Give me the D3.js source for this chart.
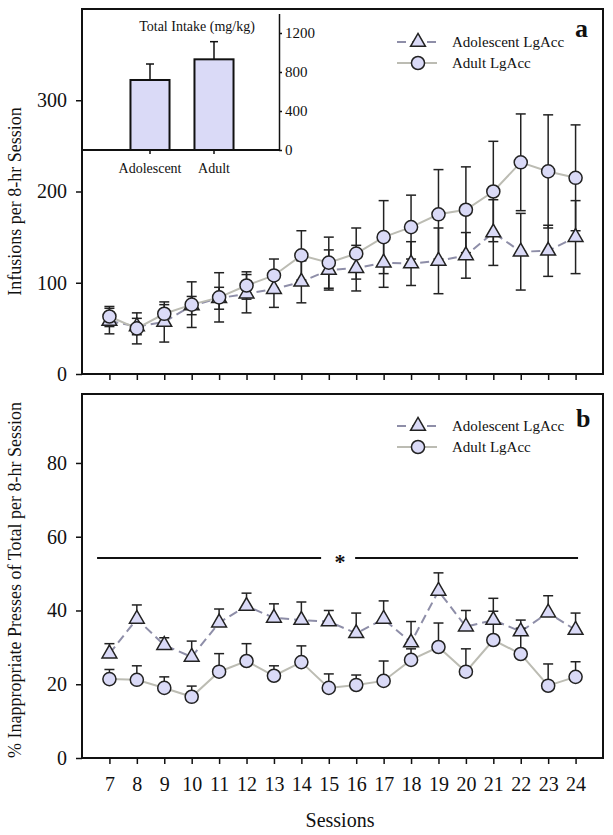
<!DOCTYPE html>
<html>
<head>
<meta charset="utf-8">
<script src="https://cdn.jsdelivr.net/npm/d3@7"></script>
<style>
  body { margin: 0; background: #fff; }
  text { font-family: "Liberation Serif", "Times New Roman", serif; fill: #111; }
</style>
</head>
<body>
<svg id="chart" width="613" height="835"></svg>
<script>
(function () {
    const width = 613, height = 835

    // sessions on the x axis
    const sessions = [7, 8, 9, 10, 11, 12, 13, 14, 15, 16, 17, 18, 19, 20, 21, 22, 23, 24]

    // panel a: infusions per 8-hr session (mean, SEM)
    const adolInf = [58, 52, 57, 75, 83, 88, 93, 101, 114, 116, 122, 121, 124, 130, 155, 134, 135, 150]
    const adolInfErr = [14, 9, 22, 10, 12, 21, 20, 23, 22, 25, 27, 24, 36, 25, 36, 42, 28, 40]
    const adultInf = [63, 50, 66, 76, 84, 97, 108, 130, 122, 132, 150, 161, 175, 180, 200, 232, 222, 215]
    const adultInfErr = [11, 17, 10, 25, 27, 15, 18, 27, 28, 28, 40, 35, 49, 47, 55, 53, 62, 58]

    // panel b: % inappropriate presses (mean, SEM)
    const adolPct = [28.3, 37.7, 30.6, 27.4, 36.7, 41.2, 38, 37.4, 37, 33.8, 37.7, 31.3, 45.3, 35.6, 37.4, 34.3, 39.4, 34.7]
    const adolPctErr = [2.7, 3.8, 2, 4.3, 3.7, 3.5, 3.8, 4.9, 3, 5.5, 4.9, 5.7, 4.9, 4.4, 5.9, 3.1, 4.6, 4.6]
    const adultPct = [21.4, 21.2, 19, 16.6, 23.4, 26.3, 22.3, 26, 19, 19.8, 20.9, 26.6, 30.1, 23.4, 32, 28.2, 19.6, 22]
    const adultPctErr = [2.6, 3.8, 3, 2.9, 4.9, 4.7, 2.7, 4.4, 3.8, 2.7, 5.4, 3, 6.5, 6.2, 7.8, 7, 5.9, 4.1]

    // inset: total intake (mg/kg)
    const groups = ["Adolescent", "Adult"]
    const intake = [718, 930]
    const intakeErr = [164, 181]

    // tick labels
    const ticksA = [0, 100, 200, 300]
    const ticksB = [0, 20, 40, 60, 80]
    const ticksInset = [0, 400, 800, 1200]
    const seriesNames = ["Adolescent LgAcc", "Adult LgAcc"]

    // significance bar in panel b (session positions, % value)
    const sigLeft = [6.55, 14.72], sigRight = [15.96, 24.09], sigY = 54.2, sigStar = 15.41

    const fill = "#dadaf7", edge = "#222"
    const adolColor = "#8e8ea8", adultColor = "#bcbcb3"

    const svg = d3.select("#chart")

    const x = d3.scaleLinear().domain([6, 25]).range([82, 603])
    const ya = d3.scaleLinear().domain([0, 400]).range([374, 9])
    const yb = d3.scaleLinear().domain([0, 98.7]).range([758, 394])

    const triangle = d3.symbol().type(d3.symbolTriangle).size(95)
    const circle = d3.symbol().type(d3.symbolCircle).size(135)

    function drawPanel(y, yTicks, adol, adolErr, adult, adultErr, bothSides, xLabels) {
        const g = svg.append("g")

        // frame
        g.append("rect")
            .attr("x", x(6)).attr("y", y.range()[1])
            .attr("width", x(25) - x(6)).attr("height", y.range()[0] - y.range()[1])
            .attr("fill", "none").attr("stroke", "#111").attr("stroke-width", 2)

        // axes
        g.append("g")
            .attr("transform", `translate(${x(6)},0)`)
            .call(d3.axisLeft(y).tickValues(yTicks).tickSize(6).tickPadding(9).tickSizeOuter(0))
            .call(a => a.select(".domain").remove())
            .call(a => a.selectAll("line").attr("stroke", "#111").attr("stroke-width", 1.5))
            .call(a => a.selectAll("text").style("font-size", "20px").attr("font-family", null))

        g.append("g")
            .attr("transform", `translate(0,${y.range()[0]})`)
            .call(d3.axisBottom(x).tickValues(sessions).tickSize(6).tickPadding(13)
                .tickFormat(xLabels ? d3.format("d") : ""))
            .call(a => a.select(".domain").remove())
            .call(a => a.selectAll("line").attr("stroke", "#111").attr("stroke-width", 1.5))
            .call(a => a.selectAll("text").style("font-size", "20px").attr("font-family", null))

        const series = [
            { v: adol, e: adolErr, color: adolColor, dash: "9,5", sym: triangle },
            { v: adult, e: adultErr, color: adultColor, dash: null, sym: circle }
        ]

        // connecting lines
        series.forEach(s => {
            g.append("path")
                .datum(sessions.map((d, i) => [d, s.v[i]]))
                .attr("fill", "none")
                .attr("stroke", s.color)
                .attr("stroke-width", 2)
                .attr("stroke-dasharray", s.dash)
                .attr("d", d3.line().x(d => x(d[0])).y(d => y(d[1])))
        })

        // error bars
        series.forEach(s => {
            const eb = g.append("g").attr("stroke", edge).attr("stroke-width", 1.5)
            sessions.forEach((d, i) => {
                const cx = x(d)
                const top = y(s.v[i] + s.e[i])
                const bot = bothSides ? y(s.v[i] - s.e[i]) : y(s.v[i])
                eb.append("line").attr("x1", cx).attr("x2", cx).attr("y1", top).attr("y2", bot)
                eb.append("line").attr("x1", cx - 5).attr("x2", cx + 5).attr("y1", top).attr("y2", top)
                if (bothSides)
                    eb.append("line").attr("x1", cx - 5).attr("x2", cx + 5).attr("y1", bot).attr("y2", bot)
            })
        })

        // markers
        series.forEach(s => {
            g.append("g").selectAll("path")
                .data(sessions)
                .enter()
                .append("path")
                .attr("d", s.sym)
                .attr("transform", (d, i) => `translate(${x(d)},${y(s.v[i])})`)
                .attr("fill", fill)
                .attr("stroke", edge)
                .attr("stroke-width", 1.5)
        })

        return { g, series }
    }

    function drawLegend(g, series, y0) {
        series.forEach((s, i) => {
            const cy = y0 + i * 21
            g.append("line")
                .attr("x1", 397).attr("x2", 437).attr("y1", cy).attr("y2", cy)
                .attr("stroke", s.color).attr("stroke-width", 2)
                .attr("stroke-dasharray", s.dash ? "9,6" : null)
            g.append("path")
                .attr("d", s.sym)
                .attr("transform", `translate(418,${cy})`)
                .attr("fill", fill).attr("stroke", edge).attr("stroke-width", 1.5)
            g.append("text")
                .attr("x", 452).attr("y", cy).attr("dy", "0.35em")
                .style("font-size", "15px")
                .text(seriesNames[i])
        })
    }

    // ---- panel a ----
    const pa = drawPanel(ya, ticksA, adolInf, adolInfErr, adultInf, adultInfErr, true, false)
    drawLegend(pa.g, pa.series, 42)
    pa.g.append("text").attr("x", 575).attr("y", 37)
        .style("font-size", "26px").style("font-weight", "bold").text("a")

    // inset bar chart
    const yi = d3.scaleLinear().domain([0, 1400]).range([150, 13.5])
    const xi = d3.scaleBand().domain(groups).range([118, 246]).paddingInner(0.39).paddingOuter(0.195)
    const inset = svg.append("g")

    inset.append("g").selectAll("rect")
        .data(groups)
        .enter()
        .append("rect")
        .attr("x", d => xi(d))
        .attr("y", (d, i) => yi(intake[i]))
        .attr("width", xi.bandwidth())
        .attr("height", (d, i) => yi(0) - yi(intake[i]))
        .attr("fill", fill)
        .attr("stroke", "#111")
        .attr("stroke-width", 2)

    inset.append("g").attr("stroke", "#111").attr("stroke-width", 1.5)
        .selectAll("g")
        .data(groups)
        .enter()
        .append("g")
        .each(function (d, i) {
            const cx = xi(d) + xi.bandwidth() / 2
            const t = yi(intake[i] + intakeErr[i])
            d3.select(this).append("line").attr("x1", cx).attr("x2", cx).attr("y1", t).attr("y2", yi(intake[i]))
            d3.select(this).append("line").attr("x1", cx - 4).attr("x2", cx + 4).attr("y1", t).attr("y2", t)
        })

    inset.append("line")
        .attr("x1", x(6)).attr("x2", 279).attr("y1", yi(0)).attr("y2", yi(0))
        .attr("stroke", "#111").attr("stroke-width", 2)

    inset.append("g")
        .attr("transform", `translate(0,${yi(0)})`)
        .call(d3.axisBottom(xi).tickSize(4).tickPadding(9).tickSizeOuter(0))
        .call(a => a.select(".domain").remove())
        .call(a => a.selectAll("line").attr("stroke", "#111").attr("stroke-width", 1.5))
        .call(a => a.selectAll("text").style("font-size", "14px").attr("font-family", null))

    inset.append("g")
        .attr("transform", `translate(279,0)`)
        .call(d3.axisRight(yi).tickValues(ticksInset).tickFormat(d3.format("d"))
            .tickSize(3).tickPadding(3).tickSizeOuter(0))
        .call(a => a.select(".domain").attr("stroke", "#111").attr("stroke-width", 1.5))
        .call(a => a.selectAll("line").attr("stroke", "#111").attr("stroke-width", 1.5))
        .call(a => a.selectAll("text").style("font-size", "15px").attr("font-family", null))

    inset.append("text")
        .attr("x", 197).attr("y", 31)
        .attr("text-anchor", "middle")
        .style("font-size", "14px")
        .text("Total Intake (mg/kg)")

    // ---- panel b ----
    const pb = drawPanel(yb, ticksB, adolPct, adolPctErr, adultPct, adultPctErr, false, true)
    drawLegend(pb.g, pb.series, 426)
    pb.g.append("text").attr("x", 576).attr("y", 427)
        .style("font-size", "26px").style("font-weight", "bold").text("b")

    // significance bar
    ;[sigLeft, sigRight].forEach(seg => {
        pb.g.append("line")
            .attr("x1", x(seg[0])).attr("x2", x(seg[1]))
            .attr("y1", yb(sigY)).attr("y2", yb(sigY))
            .attr("stroke", "#111").attr("stroke-width", 2)
    })
    pb.g.append("text")
        .attr("x", x(sigStar)).attr("y", yb(sigY) + 11)
        .attr("text-anchor", "middle")
        .style("font-size", "22px").style("font-weight", "bold")
        .text("*")

    // axis titles
    svg.append("text")
        .attr("transform", `translate(21,${(ya.range()[0] + ya.range()[1]) / 2 + 10}) rotate(-90)`)
        .attr("text-anchor", "middle")
        .style("font-size", "18px")
        .text("Infusions per 8-hr Session")

    svg.append("text")
        .attr("transform", `translate(21,580) rotate(-90)`)
        .attr("text-anchor", "middle")
        .style("font-size", "18px")
        .text("% Inappropriate Presses of Total per 8-hr Session")

    svg.append("text")
        .attr("x", 340).attr("y", 827)
        .attr("text-anchor", "middle")
        .style("font-size", "20px")
        .text("Sessions")
})();
</script>
</body>
</html>
